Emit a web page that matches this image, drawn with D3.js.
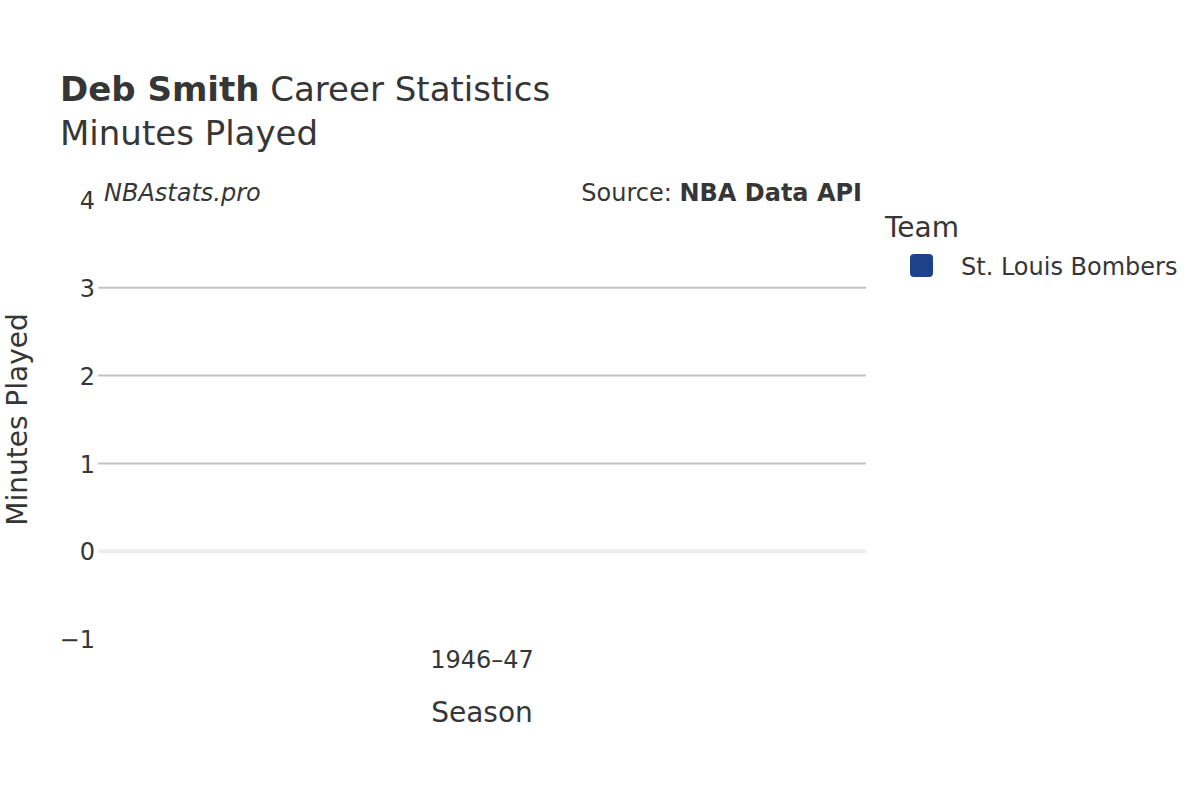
<!DOCTYPE html>
<html>
<head>
<meta charset="utf-8">
<script src="https://cdn.jsdelivr.net/npm/d3@7"></script>
<style>
  body { margin: 0; background: #fff; }
  text { font-family: "DejaVu Sans", sans-serif; fill: #363636; }
</style>
</head>
<body>
<div id="chart"></div>
<script>
// data
var seasons = ["1946–47"]
var teams = ["St. Louis Bombers"]
var teamColors = ["#1d428a"]
var minutes = [0]
var yTicks = [-1, 0, 1, 2, 3, 4]

var width = 1200, height = 800
var margin = {left: 98, right: 334, top: 200, bottom: 161}

var svg = d3.select("#chart").append("svg")
            .attr("width", width)
            .attr("height", height)

var x = d3.scaleBand()
          .domain(seasons)
          .range([margin.left, width - margin.right])
          .padding(0.2)

var y = d3.scaleLinear()
          .domain([-1, 4])
          .range([height - margin.bottom, margin.top])

// gridlines (not at the zero line or the edges)
svg.append("g")
   .selectAll("line")
   .data(yTicks.filter(d => d > 0 && d < 4))
   .join("line")
   .attr("x1", margin.left).attr("x2", width - margin.right)
   .attr("y1", d => y(d)).attr("y2", d => y(d))
   .attr("stroke", "#c4c4c4")
   .attr("stroke-width", 2)

svg.append("line")
   .attr("x1", margin.left).attr("x2", width - margin.right)
   .attr("y1", y(0)).attr("y2", y(0))
   .attr("stroke", "#eeeeee")
   .attr("stroke-width", 4)

// bars
svg.append("g")
   .selectAll("rect")
   .data(minutes)
   .join("rect")
   .attr("x", (d, i) => x(seasons[i]))
   .attr("width", x.bandwidth())
   .attr("y", d => Math.min(y(d), y(0)))
   .attr("height", d => Math.abs(y(d) - y(0)))
   .attr("fill", teamColors[0])

// y axis
var yAxis = svg.append("g")
               .attr("transform", "translate(" + (margin.left - 3) + ",1)")
               .call(d3.axisLeft(y).tickValues(yTicks).tickSize(0).tickFormat(d3.format("")))
yAxis.select(".domain").remove()
yAxis.selectAll("text")
     .attr("x", 0)
     .style("font-size", "24px")
     .style("fill", "#363636")
     .text(d => d < 0 ? "−" + Math.abs(d) : d)

// x axis
var xAxis = svg.append("g")
               .attr("transform", "translate(0,668)")
               .call(d3.axisBottom(x).tickSize(0))
xAxis.select(".domain").remove()
xAxis.selectAll("text")
     .attr("y", 0).attr("dy", null)
     .style("font-size", "24px")
     .style("fill", "#363636")

// titles
var title = svg.append("text").attr("x", 60).attr("y", 101).style("font-size", "34px")
title.append("tspan").style("font-weight", "bold").text("Deb Smith")
title.append("tspan").text(" Career Statistics")
svg.append("text").attr("x", 60).attr("y", 145).style("font-size", "34px").text("Minutes Played")

svg.append("text")
   .attr("x", (margin.left + width - margin.right) / 2)
   .attr("y", 722)
   .attr("text-anchor", "middle")
   .style("font-size", "28px")
   .text("Season")

svg.append("text")
   .attr("transform", "translate(27," + (margin.top + height - margin.bottom) / 2 + ") rotate(-90)")
   .attr("text-anchor", "middle")
   .style("font-size", "28px")
   .text("Minutes Played")

// watermark + source
svg.append("text")
   .attr("x", 104).attr("y", 201)
   .style("font-size", "24px").style("font-style", "italic")
   .text("NBAstats.pro")

var src = svg.append("text")
             .attr("x", 862).attr("y", 201)
             .attr("text-anchor", "end")
             .style("font-size", "24px")
src.append("tspan").text("Source: ")
src.append("tspan").style("font-weight", "bold").text("NBA Data API")

// legend
svg.append("text").attr("x", 885).attr("y", 237).style("font-size", "28px").text("Team")
var legend = svg.append("g")
                .selectAll("g")
                .data(teams)
                .join("g")
                .attr("transform", (d, i) => "translate(910," + (254 + i * 30) + ")")
legend.append("rect")
      .attr("width", 23).attr("height", 23).attr("rx", 4)
      .attr("fill", (d, i) => teamColors[i])
legend.append("text")
      .attr("x", 51).attr("y", 21)
      .style("font-size", "24px")
      .text(d => d)
</script>
</body>
</html>
